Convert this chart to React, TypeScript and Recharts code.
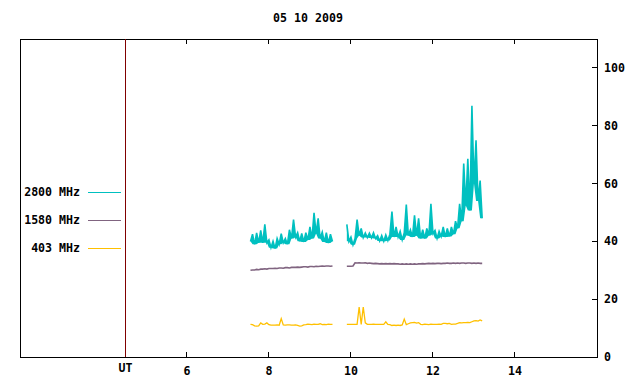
import React from 'react';
import {
  ComposedChart, Line, Area, XAxis, YAxis, ReferenceArea, ReferenceLine,
} from 'recharts';

// time in UT hours, 3-minute samples; gap 9.60–9.85 where nothing was recorded
const hours = [
  7.55, 7.6, 7.65, 7.7, 7.75, 7.8, 7.85, 7.9, 7.95, 8.0, 8.05, 8.1, 8.15, 8.2, 8.25, 8.3, 8.35, 8.4, 8.45, 8.5,
  8.55, 8.6, 8.65, 8.7, 8.75, 8.8, 8.85, 8.9, 8.95, 9.0, 9.05, 9.1, 9.15, 9.2, 9.25, 9.3, 9.35, 9.4, 9.45, 9.5, 9.55,
  9.6, 9.65, 9.7, 9.75, 9.8, 9.85,
  9.9, 9.95, 10.0, 10.05, 10.1, 10.15, 10.2, 10.25, 10.3, 10.35, 10.4, 10.45, 10.5, 10.55, 10.6, 10.65, 10.7, 10.75,
  10.8, 10.85, 10.9, 10.95, 11.0, 11.05, 11.1, 11.15, 11.2, 11.25, 11.3, 11.35, 11.4, 11.45, 11.5, 11.55, 11.6, 11.65,
  11.7, 11.75, 11.8, 11.85, 11.9, 11.95, 12.0, 12.05, 12.1, 12.15, 12.2, 12.25, 12.3, 12.35, 12.4, 12.45, 12.5, 12.55,
  12.6, 12.65, 12.7, 12.75, 12.8, 12.85, 12.9, 12.95, 13.0, 13.05, 13.1, 13.15, 13.2,
];

const mhz2800 = [
  40, 42.5, 39, 42.9, 39.5, 43.8, 39.5, 45.9, 39.5, 40.5, 37.8, 40, 37.5, 41, 39, 42.7, 39.5, 41, 39, 44,
  41, 47.5, 41.5, 43, 40, 42.7, 39.8, 43, 40.5, 45, 41, 49.9, 42.7, 48, 41, 43.2, 39.8, 43, 39.4, 42.5, 40,
  null, null, null, null, null, null,
  45.9, 40, 41.5, 38.8, 41, 47.5, 42, 44.5, 41.3, 42.9, 41.3, 42.8, 41.2, 43, 41, 42, 40.1, 42,
  40, 42.2, 40.3, 42.5, 50.3, 41.5, 45, 41.5, 43.5, 40.5, 43, 52.7, 42, 44, 41.5, 49, 42, 48,
  41, 44, 41, 44.5, 42, 53, 42.7, 43.8, 41, 43.5, 41.7, 45, 41.5, 44.5, 41.7, 45, 42.5, 47,
  44.5, 53, 47, 66.9, 52.4, 68.6, 50.7, 86.9, 60, 75, 54, 61, 48,
];

const mhz1580 = [
  30.0, 30.1, 30.1, 30.3, 30.2, 30.4, 30.4, 30.5, 30.4, 30.6, 30.6, 30.6, 30.7, 30.6, 30.8, 30.8, 30.7, 30.9, 30.9, 30.8,
  31.0, 31.0, 31.0, 31.1, 31.0, 31.1, 31.2, 31.2, 31.1, 31.3, 31.3, 31.2, 31.4, 31.3, 31.4, 31.5, 31.4, 31.5, 31.5, 31.4, 31.5,
  null, null, null, null, null, null,
  31.4, 31.4, 31.4, 31.5, 32.6, 32.5, 32.6, 32.5, 32.5, 32.6, 32.4, 32.5, 32.4, 32.3, 32.4, 32.3, 32.2, 32.3,
  32.2, 32.3, 32.2, 32.3, 32.2, 32.3, 32.2, 32.2, 32.1, 32.2, 32.1, 32.2, 32.1, 32.2, 32.1, 32.2, 32.1, 32.2,
  32.2, 32.3, 32.2, 32.3, 32.4, 32.3, 32.4, 32.3, 32.4, 32.4, 32.3, 32.4, 32.4, 32.5, 32.4, 32.4, 32.5, 32.4,
  32.5, 32.4, 32.5, 32.5, 32.4, 32.5, 32.5, 32.4, 32.5, 32.4, 32.5, 32.4, 32.4,
];

const mhz403 = [
  11.3, 11.2, 10.8, 10.7, 10.8, 11.8, 11.3, 11.4, 11.8, 11.2, 11.0, 11.0, 11.0, 11.1, 11.0, 13.3, 11.1, 11.0, 11.1, 11.1,
  11.0, 11.0, 11.1, 10.9, 10.7, 10.8, 11.1, 11.2, 11.4, 11.3, 11.2, 11.4, 11.3, 11.3, 11.5, 11.2, 11.3, 11.2, 11.4, 11.3, 11.3,
  null, null, null, null, null, null,
  11.3, 11.3, 11.3, 11.3, 11.3, 11.3, 17.3, 11.3, 17.3, 11.8, 11.3, 11.3, 11.3, 11.4, 11.3, 11.3, 11.3, 11.3,
  11.3, 12.2, 11.3, 11.2, 10.9, 11.0, 10.9, 11.0, 10.9, 11.1, 13.1, 11.2, 11.5, 11.8, 11.9, 12.0, 11.7, 11.9,
  11.3, 11.2, 11.4, 11.3, 11.2, 11.4, 11.3, 11.3, 11.3, 11.4, 11.3, 11.6, 11.6, 11.5, 11.6, 11.3, 11.4, 11.4,
  11.6, 11.9, 11.8, 11.9, 11.9, 12.0, 11.9, 12.2, 12.5, 12.6, 12.4, 12.8, 12.5,
];

const xTicks = [4.5, 6, 8, 10, 12, 14];
const yTicks = [0, 20, 40, 60, 80, 100];
const legendNames = ['2800 MHz', '1580 MHz', '403 MHz'];
const colors = ['#00c0c0', '#806480', '#ffc000'];

const FONT = '"DejaVu Sans Mono", monospace';
const FS = 11.6;

// the 2800 MHz trace is very noisy: fill from the local minimum up to the trace
function localLow(arr: (number | null)[], i: number) {
  const v = arr[i];
  if (v == null) return null;
  const around = [arr[i - 1], v, arr[i + 1]].filter((n): n is number => n != null);
  return [Math.min(...around), v];
}

const data = hours.map((t, i) => ({
  t,
  f2800: mhz2800[i],
  band2800: localLow(mhz2800, i),
  f1580: mhz1580[i],
  f403: mhz403[i],
}));

// gnuplot style: ticks point inward, mirrored on top
function XTick({ x, y, payload }: any) {
  if (payload.value === 4.5) {
    return (
      <text x={x} y={y + 15} textAnchor="middle" fontFamily={FONT} fontSize={FS} fontWeight="bold" fill="#000">
        UT
      </text>
    );
  }
  return (
    <g>
      <line x1={x} x2={x} y1={y} y2={y - 5} stroke="#000" shapeRendering="crispEdges" />
      <line x1={x} x2={x} y1={39} y2={44} stroke="#000" shapeRendering="crispEdges" />
      <text x={x} y={y + 18} textAnchor="middle" fontFamily={FONT} fontSize={FS} fontWeight="bold" fill="#000">
        {payload.value}
      </text>
    </g>
  );
}

function YTick({ x, y, payload }: any) {
  return (
    <g>
      <line x1={x - 5} x2={x} y1={y} y2={y} stroke="#000" shapeRendering="crispEdges" />
      <text x={x + 7} y={y + 4} textAnchor="start" fontFamily={FONT} fontSize={FS} fontWeight="bold" fill="#000">
        {payload.value}
      </text>
    </g>
  );
}

export default function App() {
  return (
    <div style={{ position: 'fixed', left: 0, top: 0, width: 640, height: 384, background: '#fff' }}>
      <style>{'.recharts-reference-area path, .recharts-reference-area rect, .recharts-reference-line line { shape-rendering: crispEdges; }'}</style>
      <ComposedChart width={640} height={384} data={data} margin={{ top: 39, right: 0, bottom: 0, left: 20 }}>
        <XAxis
          dataKey="t"
          type="number"
          domain={[1.93, 16]}
          ticks={xTicks}
          interval={0}
          allowDataOverflow
          axisLine={false}
          tickLine={false}
          tickSize={0}
          tickMargin={0}
          height={27}
          tick={<XTick />}
        />
        <YAxis
          orientation="right"
          type="number"
          domain={[0, 110]}
          ticks={yTicks}
          interval={0}
          allowDataOverflow
          axisLine={false}
          tickLine={false}
          tickSize={0}
          tickMargin={0}
          width={43}
          tick={<YTick />}
        />
        <ReferenceArea x1={1.93} x2={16} y1={0} y2={110} fill="none" fillOpacity={0} stroke="#000" strokeOpacity={1} />
        <ReferenceLine x={4.5} stroke="#800000" />
        <Area
          dataKey="band2800"
          type="linear"
          stroke="none"
          fill={colors[0]}
          fillOpacity={1}
          isAnimationActive={false}
          legendType="none"
        />
        <Line dataKey="f2800" stroke={colors[0]} strokeWidth={1.6} dot={false} isAnimationActive={false} />
        <Line dataKey="f1580" stroke={colors[1]} strokeWidth={1.6} dot={false} isAnimationActive={false} />
        <Line dataKey="f403" stroke={colors[2]} strokeWidth={1.3} dot={false} isAnimationActive={false} />
      </ComposedChart>
      <svg width={640} height={384} style={{ position: 'absolute', left: 0, top: 0, pointerEvents: 'none' }}>
        <text x={308} y={22} textAnchor="middle" fontFamily={FONT} fontSize={FS} fontWeight="bold" fill="#000">
          05 10 2009
        </text>
        {legendNames.map((name, i) => (
          <g key={name}>
            <text x={80} y={196 + i * 28} textAnchor="end" fontFamily={FONT} fontSize={FS} fontWeight="bold" fill="#000">
              {name}
            </text>
            <line x1={88} x2={121} y1={192 + i * 28} y2={192 + i * 28} stroke={colors[i]} shapeRendering="crispEdges" />
          </g>
        ))}
      </svg>
    </div>
  );
}
